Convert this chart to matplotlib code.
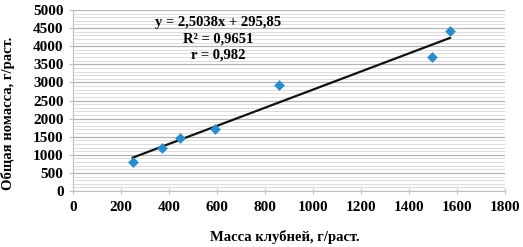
import matplotlib
matplotlib.use("Agg")
import matplotlib.pyplot as plt
import numpy as np
from matplotlib.ticker import MultipleLocator

tuber_mass = [250, 370, 448, 592, 859, 1496, 1571]
total_mass = [790, 1180, 1470, 1700, 2920, 3710, 4420]
slope = 2.5038
intercept = 295.85
eq_lines = ["y = 2,5038x + 295,85", "R² = 0,9651", "r = 0,982"]
x_ticks = [0, 200, 400, 600, 800, 1000, 1200, 1400, 1600, 1800]
y_ticks = [0, 500, 1000, 1500, 2000, 2500, 3000, 3500, 4000, 4500, 5000]

plt.rcParams['font.family'] = ['Liberation Serif', 'DejaVu Serif']
plt.rcParams['font.weight'] = 'bold'

fig = plt.figure(figsize=(5.23, 2.47), dpi=100)
ax = fig.add_axes([0.139, 0.2267, 0.8266, 0.7328])

ax.set_xlim(0, 1800)
ax.set_ylim(0, 5000)
ax.set_xticks(x_ticks)
ax.set_yticks(y_ticks)
ax.yaxis.set_minor_locator(MultipleLocator(100))
ax.grid(axis='y', which='major', color='#b5b5b5', linewidth=0.9)
ax.grid(axis='y', which='minor', color='#dcdcdc', linewidth=0.7)
ax.set_axisbelow(True)

for s in ['top', 'right']:
    ax.spines[s].set_visible(False)
for s in ['left', 'bottom']:
    ax.spines[s].set_color('#bfbfbf')
    ax.spines[s].set_linewidth(0.8)

ax.tick_params(axis='both', which='major', labelsize=11, color='#bfbfbf', length=3)
ax.tick_params(axis='y', which='minor', length=0)
ax.tick_params(axis='x', direction='inout', length=5, pad=5)
for lbl in ax.get_xticklabels() + ax.get_yticklabels():
    lbl.set_fontweight('bold')

xs = np.array([min(tuber_mass), max(tuber_mass)])
ax.plot(xs, slope * xs + intercept, color='#111111', linewidth=1.6, zorder=3)
ax.scatter(tuber_mass, total_mass, marker='D', s=30, color='#2a8ccc', zorder=4, linewidths=0)

ax.text(0.336, 0.965, "\n".join(eq_lines), transform=ax.transAxes, ha='center', va='top',
        fontsize=10.5, fontweight='bold', linespacing=1.3)

fig.text(0.545, 0.04, "Масса клубней, г/раст.", ha='center', va='center', fontsize=10.5, fontweight='bold')
fig.text(0.016, 0.54, "Общая номасса, г/раст.", ha='center', va='center', rotation=90,
         fontsize=10.5, fontweight='bold')

fig.savefig("out.png", dpi=100)
